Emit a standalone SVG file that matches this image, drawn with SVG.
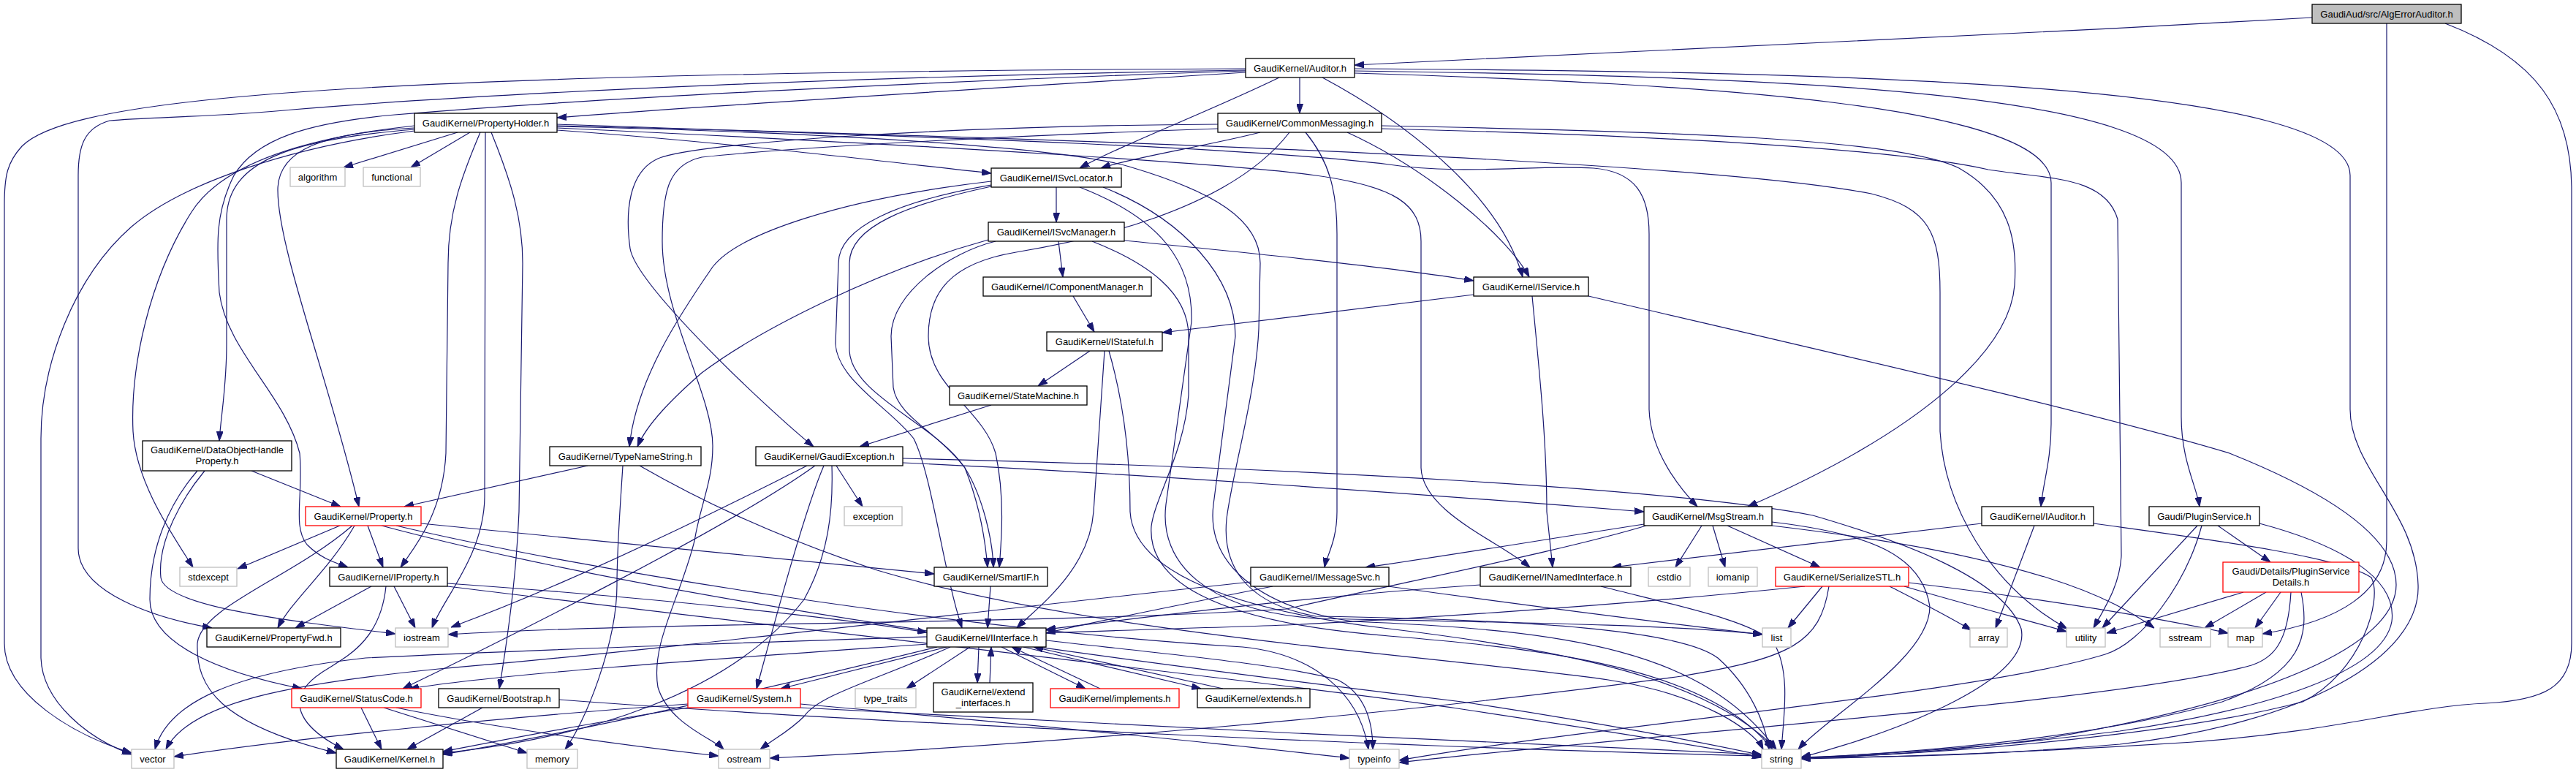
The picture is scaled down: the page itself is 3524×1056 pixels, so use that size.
<svg xmlns="http://www.w3.org/2000/svg" width="3524" height="1056" viewBox="0 0 3524 1056">
<style>
.e{fill:none;stroke:#191970;stroke-width:1.2;marker-end:url(#a)}
.n rect{fill:#fff;stroke:#000;stroke-width:1.3}
.s rect{stroke:#bfbfbf}
.r rect{stroke:#ff0000}
.root rect{fill:#bfbfbf}
text{font-family:"Liberation Sans",Arial,Helvetica,sans-serif;font-size:13px;text-anchor:middle;fill:#000}
</style>
<defs>
<marker id="a" markerWidth="13" markerHeight="9" refX="13" refY="4.5" orient="auto" markerUnits="userSpaceOnUse"><path d="M0,0 L13,4.5 L0,9 z" fill="#191970" stroke="#191970" stroke-width="1"/></marker>
</defs>
<rect width="3524" height="1056" fill="#fff"/>
<g id="edges">
<path class="e" d="M3163,24 C2700,50 2200,75 1853,89"/>
<path class="e" d="M3265,32 L3265,740 C3265,810 3200,850 3095,867"/>
<path class="e" d="M3345,32 C3470,80 3518,150 3518,260 L3518,880 C3518,940 3480,958 3400,962 C3300,966 3200,1000 3000,1015 C2800,1028 2600,1035 2464,1038"/>
<path class="e" d="M1704,99 C1400,118 1000,142 762,161"/>
<path class="e" d="M1778,106 L1778,155"/>
<path class="e" d="M1750,106 C1660,150 1530,200 1477,230"/>
<path class="e" d="M1809,106 C1910,160 2050,260 2083,379"/>
<path class="e" d="M1853,100 C2350,115 2806,145 2806,250 L2806,580 C2806,630 2795,660 2792,693"/>
<path class="e" d="M1853,97 C2450,105 2984,125 2984,250 L2984,570 C2984,630 3005,665 3009,693"/>
<path class="e" d="M1853,94 C2550,98 3215,115 3215,240 L3215,560 C3215,640 3305,700 3308,800 C3312,900 3150,990 2900,1018 C2700,1035 2560,1036 2464,1036"/>
<path class="e" d="M1704,94 C1200,96 600,105 300,135 C150,150 60,170 30,200 C10,222 6,240 6,280 L6,880 C6,950 100,1005 180,1030"/>
<path class="e" d="M1704,96 C1200,104 700,125 400,150 C300,160 200,160 150,165 C115,175 107,200 107,240 L107,750 C107,810 210,845 290,859"/>
<path class="e" d="M1704,97 C1300,110 800,135 540,157 C420,168 350,190 320,240 C295,290 296,330 300,400 C310,480 390,540 410,620 C415,680 400,720 420,745 C440,765 460,770 476,776"/>
<path class="e" d="M626,181 L470,229"/>
<path class="e" d="M643,181 L562,229"/>
<path class="e" d="M762,178 C1000,195 1200,220 1356,237"/>
<path class="e" d="M567,177 C400,190 310,220 310,300 L310,470 C310,530 302,570 300,603"/>
<path class="e" d="M567,175 C440,182 380,205 380,260 C380,340 450,520 491,693"/>
<path class="e" d="M567,172 C400,190 300,230 262,290 C205,380 178,500 182,590 C186,660 235,730 264,776"/>
<path class="e" d="M567,179 C400,200 250,250 180,310 C100,380 56,500 56,600 L56,900 C58,960 120,1010 180,1032"/>
<path class="e" d="M657,181 C632,240 613,290 613,360 L610,620 C606,700 570,745 548,776"/>
<path class="e" d="M664,181 L663,680 C662,760 605,820 591,859"/>
<path class="e" d="M672,181 C700,250 715,300 715,360 L710,700 C706,800 690,900 683,942"/>
<path class="e" d="M762,172 C1300,185 2300,215 2560,265 C2640,285 2654,320 2654,400 L2654,590 C2660,690 2720,800 2828,860"/>
<path class="e" d="M762,170 C1200,185 1700,200 1900,225 C2000,240 2100,225 2180,230 C2240,235 2256,270 2256,320 L2256,560 C2258,620 2300,670 2322,693"/>
<path class="e" d="M762,175 C1300,200 1700,225 1800,240 C1910,255 1944,280 1944,330 L1944,640 C1946,700 2050,740 2093,776"/>
<path class="e" d="M762,173 C1100,180 1450,200 1545,228 C1660,262 1724,300 1724,360 L1722,450 C1718,540 1685,650 1678,710 C1672,770 1700,825 1800,843 C2100,848 2300,862 2350,900 C2395,940 2415,990 2420,1025"/>
<path class="e" d="M1724,181 C1650,200 1550,215 1506,230"/>
<path class="e" d="M1843,181 C1950,230 2060,320 2092,379"/>
<path class="e" d="M1786,181 C1818,220 1829,260 1829,320 L1829,700 C1829,740 1815,760 1812,776"/>
<path class="e" d="M1890,172 C2300,180 2600,190 2680,230 C2750,270 2760,330 2756,390 C2750,470 2650,580 2391,693"/>
<path class="e" d="M1890,176 C2300,186 2600,205 2720,232 C2800,245 2880,240 2897,300 L2902,760 C2900,800 2880,830 2864,859"/>
<path class="e" d="M1666,170 C1300,172 950,195 900,217 C860,235 855,290 862,340 C870,390 1050,560 1113,611"/>
<path class="e" d="M1764,181 C1680,290 1480,330 1390,345 C1300,360 1270,400 1270,460 C1270,530 1345,560 1362,620 C1375,680 1370,740 1367,776"/>
<path class="e" d="M1666,176 C1400,185 1100,200 960,215 C915,225 906,260 906,330 C906,430 975,540 975,610 C975,660 958,690 950,740 C930,820 890,880 900,940 C915,990 975,1010 990,1025"/>
<path class="e" d="M1445,256 L1445,304"/>
<path class="e" d="M1356,248 C1150,272 1010,320 975,365 C930,430 870,520 861,611"/>
<path class="e" d="M1356,253 C1230,275 1147,310 1147,360 L1143,470 C1145,520 1220,560 1250,600 C1275,650 1290,780 1316,859"/>
<path class="e" d="M1356,255 C1240,280 1162,310 1162,360 L1162,480 C1165,540 1280,580 1320,640 C1340,690 1348,740 1351,776"/>
<path class="e" d="M1477,256 C1590,300 1632,360 1630,440 L1595,690 C1585,770 1650,835 1800,846 C2100,852 2300,855 2411,868"/>
<path class="e" d="M1509,256 C1620,300 1690,380 1690,460 L1660,690 C1650,770 1720,830 1850,850 C2150,862 2330,890 2430,1025"/>
<path class="e" d="M1448,330 L1454,379"/>
<path class="e" d="M1538,329 C1700,345 1900,365 2016,384"/>
<path class="e" d="M1352,328 C1200,370 1040,450 960,510 C920,545 885,580 872,611"/>
<path class="e" d="M1362,330 C1300,345 1219,400 1219,460 L1222,530 C1228,570 1282,590 1320,640 C1345,680 1358,740 1359,776"/>
<path class="e" d="M1494,330 C1570,360 1626,400 1626,460 L1626,540 C1620,620 1580,680 1575,720 C1570,790 1650,850 1900,870 C2150,890 2340,920 2425,1025"/>
<path class="e" d="M1468,405 L1497,454"/>
<path class="e" d="M2016,403 L1590,455"/>
<path class="e" d="M2096,405 C2105,500 2116,600 2116,700 L2124,776"/>
<path class="e" d="M2173,405 C2450,470 2850,560 3050,620 C3200,680 3278,740 3278,800 C3278,870 3150,950 2800,1010 C2650,1030 2550,1035 2464,1036"/>
<path class="e" d="M1491,480 L1420,528"/>
<path class="e" d="M1511,480 C1506,560 1500,640 1496,700 C1490,780 1420,830 1391,859"/>
<path class="e" d="M1517,480 C1540,560 1546,640 1546,700 C1550,770 1650,830 1900,860 C2150,890 2340,930 2430,1025"/>
<path class="e" d="M1356,554 L1176,611"/>
<path class="e" d="M344,644 L466,693"/>
<path class="e" d="M280,644 C250,680 215,740 220,790 C225,830 400,850 541,867"/>
<path class="e" d="M270,644 C230,690 205,750 205,820 C205,880 300,920 413,942"/>
<path class="e" d="M804,637 L553,693"/>
<path class="e" d="M852,637 C848,700 844,750 844,800 C844,880 800,990 773,1025"/>
<path class="e" d="M875,637 C950,680 1050,730 1200,780 C1500,870 2000,900 2200,930 C2330,950 2400,1000 2412,1025"/>
<path class="e" d="M1144,637 L1180,693"/>
<path class="e" d="M1235,633 C1500,645 1900,672 2249,700"/>
<path class="e" d="M1235,627 C1800,640 2300,670 2480,705 C2600,740 2740,790 2765,860 C2780,930 2600,1000 2464,1036"/>
<path class="e" d="M1127,637 C1100,700 1060,850 1035,942"/>
<path class="e" d="M1104,637 C1000,690 800,790 617,858"/>
<path class="e" d="M1115,637 C1000,720 700,870 551,942"/>
<path class="e" d="M1138,637 C1140,700 1133,760 1100,820 C1000,950 800,1010 606,1030"/>
<path class="e" d="M465,719 L325,778"/>
<path class="e" d="M482,719 C400,790 275,830 270,880 C268,940 300,990 460,1030"/>
<path class="e" d="M485,719 C450,780 400,820 380,859"/>
<path class="e" d="M503,719 L524,776"/>
<path class="e" d="M576,716 L1278,785"/>
<path class="e" d="M542,719 C800,780 1300,860 1700,885 C1800,895 1860,950 1872,1025"/>
<path class="e" d="M522,719 C900,820 1500,900 2000,960 C2200,990 2350,1020 2410,1033"/>
<path class="e" d="M508,802 L404,859"/>
<path class="e" d="M539,802 L568,859"/>
<path class="e" d="M528,802 C520,880 470,900 440,920 C380,960 420,1000 470,1025"/>
<path class="e" d="M612,798 C900,818 1150,845 1268,865"/>
<path class="e" d="M612,802 C1000,850 1800,940 2000,970 C2200,1000 2350,1025 2410,1036"/>
<path class="e" d="M1355,802 L1351,859"/>
<path class="e" d="M1741,802 C1600,830 1500,850 1431,866"/>
<path class="e" d="M1899,802 C2100,830 2300,855 2411,868"/>
<path class="e" d="M1711,796 C1300,840 900,890 600,915 C400,935 260,960 227,1025"/>
<path class="e" d="M2025,800 C1800,815 1600,840 1431,861"/>
<path class="e" d="M2190,802 C2300,830 2400,850 2427,880 C2450,920 2440,980 2437,1025"/>
<path class="e" d="M2249,717 C2100,740 1950,765 1868,776"/>
<path class="e" d="M2252,719 C2150,750 1950,790 1760,833 C1400,855 900,850 613,868"/>
<path class="e" d="M2328,719 L2292,776"/>
<path class="e" d="M2343,719 L2360,776"/>
<path class="e" d="M2363,719 L2490,776"/>
<path class="e" d="M2424,714 C2560,730 2630,760 2640,830 C2640,900 2500,980 2460,1025"/>
<path class="e" d="M2424,719 C2600,740 2700,760 2800,790 C2880,815 2920,840 2947,859"/>
<path class="e" d="M2711,716 C2500,740 2300,765 2205,776"/>
<path class="e" d="M2783,719 L2730,859"/>
<path class="e" d="M2864,716 C3000,735 3200,760 3244,790 C3260,820 3230,920 3150,960 C3000,1000 2700,1030 2464,1037"/>
<path class="e" d="M3034,719 L3106,769"/>
<path class="e" d="M3006,719 L2876,859"/>
<path class="e" d="M3012,719 C2990,800 2930,880 2880,895 C2700,950 2200,990 1914,1040"/>
<path class="e" d="M3091,716 C3200,745 3280,790 3272,850 C3260,920 3100,970 2900,1000 C2700,1025 2550,1033 2464,1036"/>
<path class="e" d="M3069,810 L2882,866"/>
<path class="e" d="M3100,810 L3016,859"/>
<path class="e" d="M3120,810 L3085,859"/>
<path class="e" d="M3134,810 C3130,880 3110,900 3080,910 C2900,960 2300,1000 1914,1043"/>
<path class="e" d="M3148,810 C3160,870 3150,920 3040,960 C2900,1000 2700,1025 2464,1037"/>
<path class="e" d="M2493,802 L2446,859"/>
<path class="e" d="M2502,802 C2490,880 2450,900 2300,925 C1900,980 1400,1020 1053,1037"/>
<path class="e" d="M2585,802 C2620,820 2660,840 2697,862"/>
<path class="e" d="M2605,802 C2700,830 2780,850 2827,864"/>
<path class="e" d="M2611,797 C2800,820 2950,845 3048,866"/>
<path class="e" d="M2469,802 C2200,830 1900,848 1760,855 C1300,870 800,885 500,900 C320,920 230,960 212,1025"/>
<path class="e" d="M1282,885 C1100,930 800,1000 606,1032"/>
<path class="e" d="M1268,881 C1000,900 700,920 560,942"/>
<path class="e" d="M1295,885 L1068,942"/>
<path class="e" d="M1300,885 C1200,930 1120,950 1100,980 C1080,1000 1060,1010 1040,1025"/>
<path class="e" d="M1327,885 L1240,942"/>
<path class="e" d="M1431,876 C1600,895 1760,910 1830,930 C1870,950 1878,990 1878,1025"/>
<path class="e" d="M1339,885 L1337,934"/>
<path class="e" d="M1370,885 L1485,942"/>
<path class="e" d="M1400,885 L1643,942"/>
<path class="e" d="M1354,934 L1356,885"/>
<path class="e" d="M1505,942 L1384,885"/>
<path class="e" d="M1673,942 L1414,885"/>
<path class="e" d="M494,968 L522,1025"/>
<path class="e" d="M525,968 L721,1030"/>
<path class="e" d="M542,968 C700,1000 900,1025 983,1034"/>
<path class="e" d="M660,968 L557,1025"/>
<path class="e" d="M765,957 C1200,990 2000,1025 2410,1034"/>
<path class="e" d="M941,968 C800,990 700,1010 606,1028"/>
<path class="e" d="M941,963 C700,980 400,1010 238,1035"/>
<path class="e" d="M1095,968 C1500,990 2000,1015 2410,1032"/>
<path class="e" d="M1095,963 C1400,990 1700,1020 1846,1037"/>
</g>
<g id="n_root" class="n root"><rect x="3163" y="6" width="204" height="26"/><text x="3265" y="24">GaudiAud/src/AlgErrorAuditor.h</text></g>
<g id="n_auditor" class="n"><rect x="1704" y="80" width="149" height="26"/><text x="1778.5" y="98">GaudiKernel/Auditor.h</text></g>
<g id="n_propertyholder" class="n"><rect x="567" y="155" width="195" height="26"/><text x="664.5" y="173">GaudiKernel/PropertyHolder.h</text></g>
<g id="n_commonmessaging" class="n"><rect x="1666" y="155" width="224" height="26"/><text x="1778" y="173">GaudiKernel/CommonMessaging.h</text></g>
<g id="n_algorithm" class="n s"><rect x="397" y="229" width="75" height="26"/><text x="434.5" y="247">algorithm</text></g>
<g id="n_functional" class="n s"><rect x="497" y="229" width="78" height="26"/><text x="536" y="247">functional</text></g>
<g id="n_isvclocator" class="n"><rect x="1356" y="230" width="178" height="26"/><text x="1445" y="248">GaudiKernel/ISvcLocator.h</text></g>
<g id="n_isvcmanager" class="n"><rect x="1352" y="304" width="186" height="26"/><text x="1445" y="322">GaudiKernel/ISvcManager.h</text></g>
<g id="n_icomponentmanager" class="n"><rect x="1345" y="379" width="230" height="26"/><text x="1460" y="397">GaudiKernel/IComponentManager.h</text></g>
<g id="n_iservice" class="n"><rect x="2016" y="379" width="157" height="26"/><text x="2094.5" y="397">GaudiKernel/IService.h</text></g>
<g id="n_istateful" class="n"><rect x="1432" y="454" width="158" height="26"/><text x="1511" y="472">GaudiKernel/IStateful.h</text></g>
<g id="n_statemachine" class="n"><rect x="1299" y="528" width="188" height="26"/><text x="1393" y="546">GaudiKernel/StateMachine.h</text></g>
<g id="n_dohp" class="n"><rect x="195" y="603" width="204" height="41"/><text x="297" y="620">GaudiKernel/DataObjectHandle</text><text x="297" y="635">Property.h</text></g>
<g id="n_typenamestring" class="n"><rect x="752" y="611" width="207" height="26"/><text x="855.5" y="629">GaudiKernel/TypeNameString.h</text></g>
<g id="n_gaudiexception" class="n"><rect x="1034" y="611" width="201" height="26"/><text x="1134.5" y="629">GaudiKernel/GaudiException.h</text></g>
<g id="n_property" class="n r"><rect x="418" y="693" width="158" height="26"/><text x="497" y="711">GaudiKernel/Property.h</text></g>
<g id="n_exception" class="n s"><rect x="1155" y="693" width="79" height="26"/><text x="1194.5" y="711">exception</text></g>
<g id="n_msgstream" class="n"><rect x="2249" y="693" width="175" height="26"/><text x="2336.5" y="711">GaudiKernel/MsgStream.h</text></g>
<g id="n_iauditor" class="n"><rect x="2711" y="693" width="153" height="26"/><text x="2787.5" y="711">GaudiKernel/IAuditor.h</text></g>
<g id="n_pluginservice" class="n"><rect x="2940" y="693" width="151" height="26"/><text x="3015.5" y="711">Gaudi/PluginService.h</text></g>
<g id="n_stdexcept" class="n s"><rect x="246" y="776" width="78" height="26"/><text x="285" y="794">stdexcept</text></g>
<g id="n_iproperty" class="n"><rect x="451" y="776" width="161" height="26"/><text x="531.5" y="794">GaudiKernel/IProperty.h</text></g>
<g id="n_smartif" class="n"><rect x="1278" y="776" width="155" height="26"/><text x="1355.5" y="794">GaudiKernel/SmartIF.h</text></g>
<g id="n_imessagesvc" class="n"><rect x="1711" y="776" width="189" height="26"/><text x="1805.5" y="794">GaudiKernel/IMessageSvc.h</text></g>
<g id="n_inamedinterface" class="n"><rect x="2025" y="776" width="206" height="26"/><text x="2128" y="794">GaudiKernel/INamedInterface.h</text></g>
<g id="n_cstdio" class="n s"><rect x="2255" y="776" width="57" height="26"/><text x="2283.5" y="794">cstdio</text></g>
<g id="n_iomanip" class="n s"><rect x="2337" y="776" width="67" height="26"/><text x="2370.5" y="794">iomanip</text></g>
<g id="n_serializestl" class="n r"><rect x="2429" y="776" width="182" height="26"/><text x="2520" y="794">GaudiKernel/SerializeSTL.h</text></g>
<g id="n_psdetails" class="n r"><rect x="3041" y="769" width="186" height="41"/><text x="3134" y="786">Gaudi/Details/PluginService</text><text x="3134" y="801">Details.h</text></g>
<g id="n_propertyfwd" class="n"><rect x="283" y="859" width="183" height="26"/><text x="374.5" y="877">GaudiKernel/PropertyFwd.h</text></g>
<g id="n_iostream" class="n s"><rect x="541" y="859" width="72" height="26"/><text x="577" y="877">iostream</text></g>
<g id="n_iinterface" class="n"><rect x="1268" y="859" width="163" height="26"/><text x="1349.5" y="877">GaudiKernel/IInterface.h</text></g>
<g id="n_list" class="n s"><rect x="2411" y="859" width="39" height="26"/><text x="2430.5" y="877">list</text></g>
<g id="n_array" class="n s"><rect x="2695" y="859" width="51" height="26"/><text x="2720.5" y="877">array</text></g>
<g id="n_utility" class="n s"><rect x="2827" y="859" width="53" height="26"/><text x="2853.5" y="877">utility</text></g>
<g id="n_sstream" class="n s"><rect x="2955" y="859" width="69" height="26"/><text x="2989.5" y="877">sstream</text></g>
<g id="n_map" class="n s"><rect x="3048" y="859" width="47" height="26"/><text x="3071.5" y="877">map</text></g>
<g id="n_statuscode" class="n r"><rect x="399" y="942" width="177" height="26"/><text x="487.5" y="960">GaudiKernel/StatusCode.h</text></g>
<g id="n_bootstrap" class="n"><rect x="600" y="942" width="165" height="26"/><text x="682.5" y="960">GaudiKernel/Bootstrap.h</text></g>
<g id="n_system" class="n r"><rect x="941" y="942" width="154" height="26"/><text x="1018" y="960">GaudiKernel/System.h</text></g>
<g id="n_type_traits" class="n s"><rect x="1170" y="942" width="83" height="26"/><text x="1211.5" y="960">type_traits</text></g>
<g id="n_extend_interfaces" class="n"><rect x="1277" y="934" width="136" height="40"/><text x="1345" y="951">GaudiKernel/extend</text><text x="1345" y="966">_interfaces.h</text></g>
<g id="n_implements" class="n r"><rect x="1437" y="942" width="176" height="26"/><text x="1525" y="960">GaudiKernel/implements.h</text></g>
<g id="n_extends" class="n"><rect x="1638" y="942" width="154" height="26"/><text x="1715" y="960">GaudiKernel/extends.h</text></g>
<g id="n_vector" class="n s"><rect x="180" y="1025" width="58" height="26"/><text x="209" y="1043">vector</text></g>
<g id="n_kernel" class="n"><rect x="460" y="1025" width="146" height="26"/><text x="533" y="1043">GaudiKernel/Kernel.h</text></g>
<g id="n_memory" class="n s"><rect x="721" y="1025" width="69" height="26"/><text x="755.5" y="1043">memory</text></g>
<g id="n_ostream" class="n s"><rect x="983" y="1025" width="70" height="26"/><text x="1018" y="1043">ostream</text></g>
<g id="n_typeinfo" class="n s"><rect x="1846" y="1025" width="68" height="26"/><text x="1880" y="1043">typeinfo</text></g>
<g id="n_string" class="n s"><rect x="2410" y="1025" width="54" height="26"/><text x="2437" y="1043">string</text></g>
</svg>
